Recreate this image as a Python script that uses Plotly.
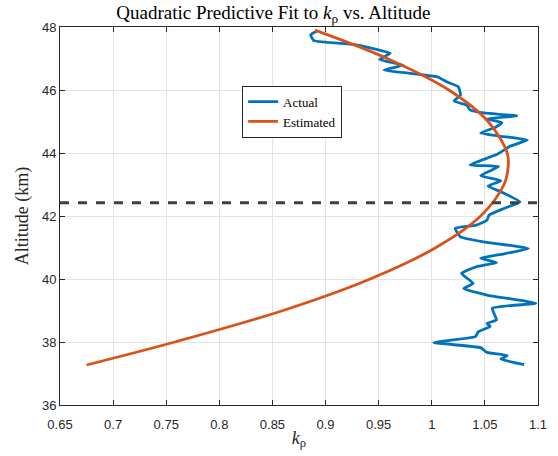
import plotly.graph_objects as go

# Actual k_rho profile (k_rho, altitude km)
actual_k = [0.892, 0.886, 0.889, 0.926, 0.948, 0.961, 0.951, 0.973, 0.955, 0.980,
            1.005, 1.014, 1.025, 1.027, 1.021, 1.033, 1.036, 1.049, 1.080, 1.052,
            1.066, 1.060, 1.046, 1.068, 1.090, 1.074, 1.061, 1.036, 1.063, 1.046,
            1.065, 1.053, 1.065, 1.083, 1.068, 1.054, 1.052, 1.042, 1.022, 1.027,
            1.049, 1.091, 1.065, 1.046, 1.061, 1.042, 1.028, 1.039, 1.030, 1.052,
            1.098, 1.057, 1.061, 1.052, 1.055, 1.044, 1.041, 1.002, 1.046, 1.052,
            1.071, 1.065, 1.087]
actual_alt = [47.87, 47.75, 47.57, 47.45, 47.29, 47.17, 46.97, 46.79, 46.63, 46.53,
              46.42, 46.26, 46.10, 45.84, 45.65, 45.52, 45.37, 45.27, 45.18, 45.08,
              44.97, 44.82, 44.63, 44.52, 44.41, 44.22, 43.95, 43.62, 43.57, 43.28,
              43.12, 42.95, 42.77, 42.45, 42.24, 42.03, 41.87, 41.71, 41.61, 41.34,
              41.18, 40.97, 40.78, 40.66, 40.52, 40.39, 40.18, 39.86, 39.70, 39.49,
              39.23, 39.07, 38.70, 38.59, 38.49, 38.33, 38.17, 37.98, 37.82, 37.67,
              37.57, 37.46, 37.28]

# Estimated (quadratic fit) curve
est_k = [0.675, 0.758, 0.860, 0.942, 1.004, 1.046, 1.068, 1.072, 1.071, 1.053, 1.016, 0.958, 0.890]
est_alt = [37.27, 38.0, 39.0, 40.0, 41.0, 42.0, 43.0, 43.6, 44.0, 45.0, 46.0, 47.0, 47.9]

threshold_alt = 42.42

x_ticks = [0.65, 0.7, 0.75, 0.8, 0.85, 0.9, 0.95, 1.0, 1.05, 1.1]
x_tick_text = ["0.65", "0.7", "0.75", "0.8", "0.85", "0.9", "0.95", "1", "1.05", "1.1"]
y_ticks = [36, 38, 40, 42, 44, 46, 48]

fig = go.Figure()
fig.add_trace(go.Scatter(x=actual_k, y=actual_alt, mode="lines", name="Actual",
                         line=dict(color="#0072BD", width=2.8, shape="spline", smoothing=0.4)))
fig.add_trace(go.Scatter(x=est_k, y=est_alt, mode="lines", name="Estimated",
                         line=dict(color="#D95319", width=2.8, shape="spline")))
fig.add_shape(type="line", xref="x domain", yref="y", x0=0, x1=1,
              y0=threshold_alt, y1=threshold_alt,
              line=dict(color="#404040", width=2.8, dash="dash"))

serif = "Liberation Serif, DejaVu Serif, serif"
sans = "Liberation Sans, Arial, sans-serif"
axis_common = dict(showline=True, linecolor="#262626", linewidth=1, mirror="allticks",
                   ticks="inside", ticklen=5, tickcolor="#262626",
                   showgrid=True, gridcolor="#e3e3e3", gridwidth=1, zeroline=False,
                   tickfont=dict(family=sans, size=13, color="#262626"))
fig.update_layout(
    width=558, height=456,
    margin=dict(l=60, r=20, t=27, b=51),
    paper_bgcolor="white", plot_bgcolor="white",
    title=dict(text="Quadratic Predictive Fit to <i>k</i><sub>ρ</sub> vs. Altitude",
               x=0.49, xanchor="center", y=0.972, yanchor="middle",
               font=dict(family=serif, size=19, color="black")),
    xaxis=dict(range=[0.65, 1.1], tickvals=x_ticks, ticktext=x_tick_text,
               ticklabelstandoff=7,
               title=dict(text="<i>k</i><sub>ρ</sub>", font=dict(family=serif, size=18, color="#262626"),
                          standoff=0),
               **axis_common),
    yaxis=dict(range=[36, 48], tickvals=y_ticks,
               title=dict(text="Altitude (km)", font=dict(family=serif, size=18, color="#262626"),
                          standoff=8),
               **axis_common),
    legend=dict(x=0.381, y=0.845, xanchor="left", yanchor="top",
                bgcolor="white", bordercolor="#262626", borderwidth=1,
                font=dict(family=serif, size=13, color="black"),
                tracegroupgap=0, itemwidth=30),
    showlegend=True,
)
fig.write_html("out.html")
